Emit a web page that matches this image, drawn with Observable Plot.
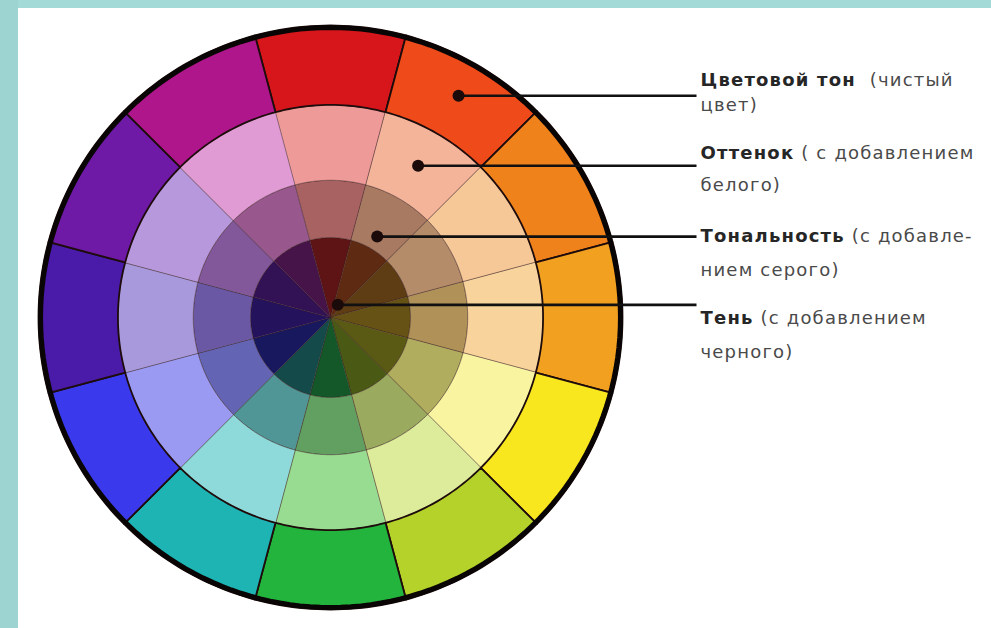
<!DOCTYPE html>
<html><head><meta charset="utf-8">
<script src="https://cdn.jsdelivr.net/npm/d3@7"></script>
<script src="https://cdn.jsdelivr.net/npm/@observablehq/plot@0.6"></script>
<style>
html,body{margin:0;padding:0;background:#fff;}
#chart svg{display:block;max-width:none;background:linear-gradient(to right,#9dd4d2 18px,transparent 18px),linear-gradient(to bottom,#a3d9d6 8px,#ffffff 8px);}
#chart svg text{letter-spacing:1.2px;}
</style></head><body><div id="chart"></div>
<script>
// ---- data ----
const hues = ["красный","красно-оранжевый","оранжевый","жёлто-оранжевый","жёлтый","жёлто-зелёный","зелёный","сине-зелёный","синий","сине-фиолетовый","фиолетовый","красно-фиолетовый"];
const hueColors   = ["#d7161c","#ee4a1a","#f0821c","#f2a020","#f8e61e","#b4d22a","#22b43c","#1eb4b4","#3a3aec","#4a1aa8","#6e1aa6","#b0168c"];
const tintColors  = ["#ee9a98","#f4b49a","#f6c898","#f8d49c","#f8f4a0","#ddec9a","#98dc92","#8edada","#9a9af2","#a898dc","#b898dc","#e09ad4"];
const toneColors  = ["#a86262","#a87a62","#b48c6a","#b09258","#b0ae5e","#9aaa5e","#62a062","#509696","#6464b4","#6a58a4","#82589a","#98588e"];
const shadeColors = ["#5e1414","#5e2a12","#5e3c14","#665214","#5a5a14","#4a5a14","#14582a","#144a4a","#18185e","#24125c","#321254","#461448"];
const ringNames  = ["Цветовой тон","Оттенок","Тональность","Тень"];
const ringNotes  = ["  (чистый"," ( с добавлением"," (с добавле-"," (с добавлением"];
const ringNotes2 = ["цвет)","белого)","нием серого)","черного)"];

// ---- layout ----
const W=991,H=628,CX=330,CY=317,R=292;
const EDGES=[0,0.274,0.47,0.728,1];            // shade | tone | tint | hue ring boundaries
const ringPalettes=[shadeColors,toneColors,tintColors,hueColors];
const POINTER_ANGLE=30*Math.PI/180;
const POINTER_R=[0.877,0.60,0.32,0.05];        // hue, tint, tone, shade
const LINE_END=(696-CX)/R, LABEL_X=(700-CX)/R;
const LABEL_Y1=[85,158,241,323], LABEL_Y2=[110,190,275,357];
const FS=18, LS=1.2, FONT="DejaVu Sans";
const py=v=>(CY-v)/R;

// wedges
const wedges=[];
const N=24;
ringPalettes.forEach((pal,k)=>{
  const r0=EDGES[k], r1=EDGES[k+1];
  hues.forEach((h,i)=>{
    const a0=(i*30-15)*Math.PI/180, a1=(i*30+15)*Math.PI/180, id=k*12+i;
    for(let j=0;j<=N;j++){const a=a0+(a1-a0)*j/N;wedges.push({id,ring:k,hue:h,color:pal[i],x:r1*Math.sin(a),y:r1*Math.cos(a)});}
    if(r0>0){for(let j=N;j>=0;j--){const a=a0+(a1-a0)*j/N;wedges.push({id,ring:k,hue:h,color:pal[i],x:r0*Math.sin(a),y:r0*Math.cos(a)});}}
    else wedges.push({id,ring:k,hue:h,color:pal[i],x:0,y:0});
  });
});
const rim=d3.range(0,361,2).map(d=>({x:0.993*Math.sin(d*Math.PI/180),y:0.993*Math.cos(d*Math.PI/180)}));

// pointers and labels
const ctx=document.createElement("canvas").getContext("2d");
function tw(s,weight){ctx.font=`${weight} ${FS}px "${FONT}"`;return ctx.measureText(s).width+s.length*LS;}
const labels=ringNames.map((name,i)=>{
  const r=POINTER_R[i];
  const px=r*Math.sin(POINTER_ANGLE), pyv=r*Math.cos(POINTER_ANGLE);
  const note=ringNotes[i], lead=note.length-note.trimStart().length;
  const off=tw(name,"bold")+tw(note.slice(0,lead),"normal");
  return {name,note:note.trimStart(),note2:ringNotes2[i],px,py:pyv,y1:py(LABEL_Y1[i]),y2:py(LABEL_Y2[i]),nx:LABEL_X+off/R};
});

const plot=Plot.plot({
  width:W,height:H,margin:0,
  x:{domain:[-CX/R,(W-CX)/R],axis:null},
  y:{domain:[-(H-CY)/R,CY/R],axis:null},
  color:{type:"identity"},
  marks:[
    Plot.line(wedges.filter(d=>d.ring<3),{x:"x",y:"y",z:"id",fill:"color",stroke:"#3a2020",strokeOpacity:0.45,strokeWidth:1,curve:"linear-closed"}),
    Plot.line(wedges.filter(d=>d.ring===3),{x:"x",y:"y",z:"id",fill:"color",stroke:"#1e0c0c",strokeWidth:1.8,curve:"linear-closed"}),
    Plot.line(rim,{x:"x",y:"y",stroke:"#0a0505",strokeWidth:5,curve:"linear-closed"}),
    Plot.link(labels,{x1:"px",y1:"py",x2:()=>LINE_END,y2:"py",stroke:"#111",strokeWidth:2.6}),
    Plot.dot(labels,{x:"px",y:"py",r:6,fill:"#1a0a0a"}),
    Plot.text(labels,{x:()=>LABEL_X,y:"y1",text:"name",textAnchor:"start",lineAnchor:"bottom",fontFamily:FONT,fontSize:FS,fontWeight:"bold",fill:"#262626"}),
    Plot.text(labels,{x:"nx",y:"y1",text:"note",textAnchor:"start",lineAnchor:"bottom",fontFamily:FONT,fontSize:FS,fill:"#4a4a4a"}),
    Plot.text(labels,{x:()=>LABEL_X,y:"y2",text:"note2",textAnchor:"start",lineAnchor:"bottom",fontFamily:FONT,fontSize:FS,fill:"#4a4a4a"})
  ]
});
document.getElementById("chart").append(plot);
</script></body></html>
